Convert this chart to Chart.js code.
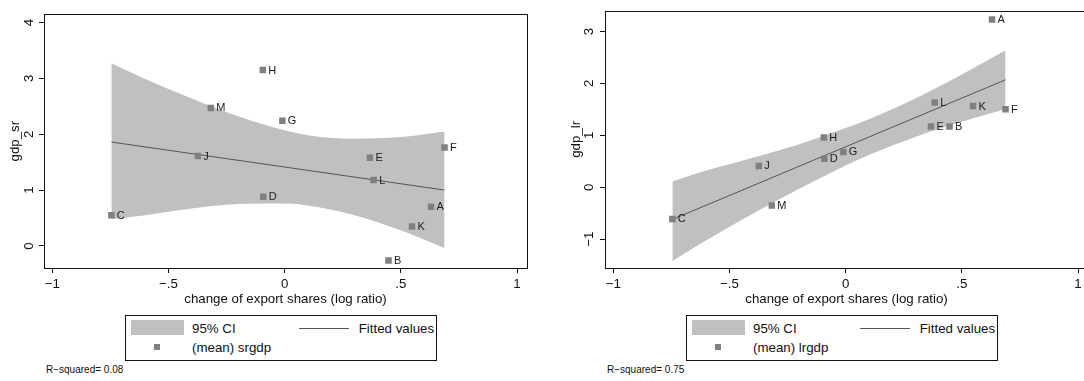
<!DOCTYPE html>
<html>
<head>
<meta charset="utf-8">
<script src="https://cdn.jsdelivr.net/npm/chart.js@4.4.1/dist/chart.umd.min.js"></script>
<style>
html,body{margin:0;padding:0;background:#fff;width:1084px;height:381px;overflow:hidden;}
#wrap{position:relative;width:1084px;height:381px;overflow:hidden;font-family:"Liberation Sans",Arial,sans-serif;color:#111;}
.panel{position:absolute;top:0;width:561px;height:320px;}
.panel canvas{display:block;}
.legend{position:absolute;top:315px;width:312px;height:46px;border:1px solid #111;box-sizing:border-box;background:#fff;}
.legend .ci{position:absolute;left:4.7px;top:4.3px;width:53px;height:15px;background:#c0c0c0;}
.legend .ln{position:absolute;left:173px;top:11.5px;width:50px;height:1px;background:#555;}
.legend .mk{position:absolute;left:28px;top:28px;width:6.3px;height:6.3px;background:#808080;}
.legend span{position:absolute;font-size:13.3px;line-height:15px;white-space:nowrap;}
.note{position:absolute;top:364px;font-size:10px;line-height:12px;white-space:nowrap;}
</style>
</head>
<body>
<div id="wrap">
  <div class="panel" style="left:0px"><canvas id="c1" width="561" height="320"></canvas></div>
  <div class="panel" style="left:561px"><canvas id="c2" width="561" height="320"></canvas></div>

  <div class="legend" style="left:125px">
    <div class="ci"></div><span style="left:66px;top:4.7px">95% CI</span>
    <div class="ln"></div><span style="left:232.7px;top:4.7px">Fitted values</span>
    <div class="mk"></div><span style="left:66px;top:24px">(mean) srgdp</span>
  </div>
  <div class="legend" style="left:686px">
    <div class="ci"></div><span style="left:66px;top:4.7px">95% CI</span>
    <div class="ln"></div><span style="left:232.7px;top:4.7px">Fitted values</span>
    <div class="mk"></div><span style="left:66px;top:24px">(mean) lrgdp</span>
  </div>
  <div class="note" style="left:46px">R−squared= 0.08</div>
  <div class="note" style="left:607px">R−squared= 0.75</div>
</div>
<script>
// ---------- data ----------
const countries = ["A","B","C","D","E","F","G","H","J","K","L","M"];
const exportShareChange = [0.63, 0.447, -0.746, -0.092, 0.367, 0.688, -0.01, -0.094, -0.374, 0.548, 0.383, -0.318];
const gdpSr = [0.70, -0.26, 0.55, 0.88, 1.58, 1.76, 2.24, 3.15, 1.61, 0.35, 1.18, 2.47];
const gdpLr = [3.23, 1.17, -0.61, 0.55, 1.17, 1.50, 0.68, 0.96, 0.41, 1.565, 1.63, -0.35];

// fitted line end points
const fitX = [-0.746, 0.688];
const fitSr = [1.86, 1.00];
const fitLr = [-0.62, 2.07];

// 95% CI band, read at these x positions
const ciX = [-0.746, -0.6, -0.4, -0.2, 0, 0.12, 0.3, 0.5, 0.688];
const ciSrUpper = [3.27, 2.99, 2.64, 2.32, 2.07, 1.97, 1.92, 1.95, 2.05];
const ciSrLower = [0.48, 0.55, 0.67, 0.75, 0.76, 0.71, 0.55, 0.28, -0.04];
const ciLrUpper = [0.11, 0.32, 0.57, 0.83, 1.14, 1.35, 1.71, 2.17, 2.64];
const ciLrLower = [-1.42, -1.02, -0.51, -0.03, 0.42, 0.66, 0.97, 1.26, 1.50];

// ticks
const xTickValues = [-1, -0.5, 0, 0.5, 1];
const xTickLabels = ["−1", "−.5", "0", ".5", "1"];
const ySrTickValues = [0, 1, 2, 3, 4];
const ySrTickLabels = ["0", "1", "2", "3", "4"];
const yLrTickValues = [-1, 0, 1, 2, 3];
const yLrTickLabels = ["−1", "0", "1", "2", "3"];

// ---------- drawing ----------
const FONT = "'Liberation Sans', Arial, sans-serif";
const INK = '#111';

const framePlugin = {
  id: 'frame',
  afterDraw(chart) {
    const {ctx, chartArea: a} = chart;
    ctx.save();
    ctx.strokeStyle = INK;
    ctx.lineWidth = 1;
    ctx.strokeRect(Math.round(a.left) + 0.5, Math.round(a.top) + 0.5,
                   Math.round(a.right - a.left), Math.round(a.bottom - a.top));
    ctx.restore();
  }
};

const pointLabelPlugin = {
  id: 'pointLabels',
  afterDatasetsDraw(chart) {
    const idx = chart.data.datasets.findIndex(d => d.isPoints);
    const meta = chart.getDatasetMeta(idx);
    const ctx = chart.ctx;
    ctx.save();
    ctx.font = "11px " + FONT;
    ctx.fillStyle = '#1a1a1a';
    ctx.textAlign = 'left';
    ctx.textBaseline = 'middle';
    meta.data.forEach((pt, i) => ctx.fillText(countries[i], pt.x + 5.5, pt.y + 0.5));
    ctx.restore();
  }
};

function pairs(xs, ys) { return xs.map((x, i) => ({x: x, y: ys[i]})); }

function makeChart(id, yVals, fitY, up, lo, yTitle, yMin, yMax, yTickVals, yTickLabs, yPad) {
  return new Chart(document.getElementById(id), {
    type: 'scatter',
    data: {
      datasets: [
        { data: pairs(ciX, up), showLine: true, borderWidth: 0, pointRadius: 0,
          backgroundColor: '#c0c0c0', fill: '+1', cubicInterpolationMode: 'monotone', order: 3 },
        { data: pairs(ciX, lo), showLine: true, borderWidth: 0, pointRadius: 0,
          backgroundColor: '#c0c0c0', fill: false, cubicInterpolationMode: 'monotone', order: 3 },
        { data: pairs(fitX, fitY), showLine: true, borderColor: '#555', borderWidth: 1,
          pointRadius: 0, fill: false, order: 2 },
        { data: pairs(exportShareChange, yVals), isPoints: true, pointStyle: 'rect',
          pointRadius: 4.6, pointBackgroundColor: '#808080', pointBorderWidth: 0,
          borderWidth: 0, order: 1 }
      ]
    },
    options: {
      responsive: false,
      animation: false,
      events: [],
      layout: { padding: { left: 0, top: 8, right: 34, bottom: 0 } },
      plugins: { legend: { display: false }, tooltip: { enabled: false } },
      scales: {
        x: {
          type: 'linear', position: 'bottom', min: -1.036, max: 1.043,
          afterBuildTicks: s => { s.ticks = xTickValues.map(v => ({value: v})); },
          afterFit: s => { s.height = 52; },
          grid: { display: true, drawOnChartArea: false, drawTicks: true, tickLength: 5, tickColor: INK, color: INK },
          border: { display: false },
          ticks: { callback: (v, i) => xTickLabels[i], font: { family: FONT, size: 13.3 }, color: INK,
                   padding: 3, minRotation: 0, maxRotation: 0, autoSkip: false },
          title: { display: true, text: 'change of export shares (log ratio)', color: INK,
                   font: { family: FONT, size: 13.3 }, padding: { top: 0, bottom: 13 } }
        },
        y: {
          type: 'linear', position: 'left', min: yMin, max: yMax,
          afterBuildTicks: s => { s.ticks = yTickVals.map(v => ({value: v})); },
          afterFit: s => { s.width = 44; },
          grid: { display: true, drawOnChartArea: false, drawTicks: true, tickLength: 5, tickColor: INK, color: INK },
          border: { display: false },
          ticks: { callback: (v, i) => yTickLabs[i], font: { family: FONT, size: 13.3 }, color: INK,
                   padding: yPad, minRotation: 90, maxRotation: 90, crossAlign: 'center', autoSkip: false },
          title: { display: true, text: yTitle, color: INK,
                   font: { family: FONT, size: 13.3 }, padding: { top: 7, bottom: 0 } }
        }
      }
    },
    plugins: [framePlugin, pointLabelPlugin]
  });
}

makeChart('c1', gdpSr, fitSr, ciSrUpper, ciSrLower, 'gdp_sr', -0.395, 4.147, ySrTickValues, ySrTickLabels, 6.3);
makeChart('c2', gdpLr, fitLr, ciLrUpper, ciLrLower, 'gdp_lr', -1.556, 3.403, yLrTickValues, yLrTickLabels, 2.6);
</script>
</body>
</html>
